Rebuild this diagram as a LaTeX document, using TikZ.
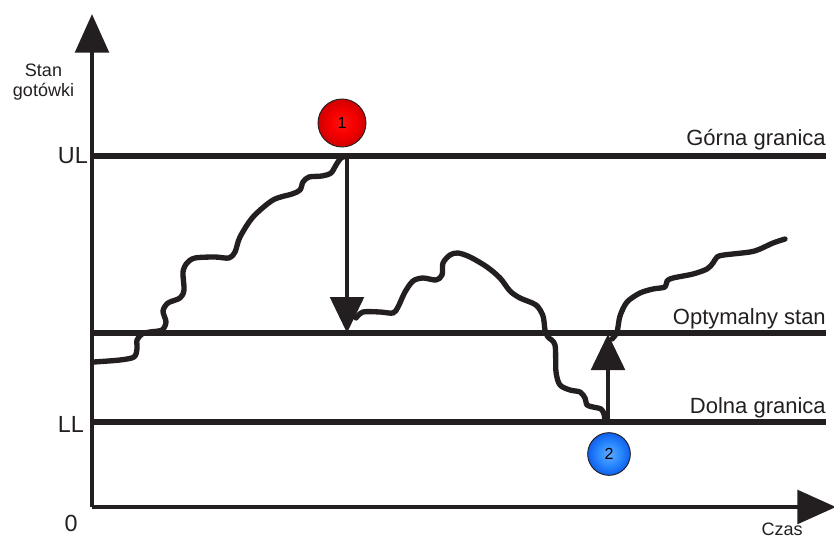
\documentclass[tikz,border=0pt]{standalone}
\usepackage{fontspec}
\setmainfont{Liberation Sans}
\usetikzlibrary{arrows.meta}
\definecolor{ink}{RGB}{35,31,32}
\pgfdeclareradialshading{redball}{\pgfpoint{0bp}{0bp}}{color(0bp)=(red!92!white); color(12bp)=(red!97!black); color(25bp)=(red!82!black); color(50bp)=(red!72!black)}
\pgfdeclareradialshading{blueball}{\pgfpoint{0bp}{0bp}}{color(0bp)=(rgb,255:red,95;green,170;blue,255); color(14bp)=(rgb,255:red,40;green,135;blue,255); color(25bp)=(rgb,255:red,15;green,95;blue,235); color(50bp)=(rgb,255:red,10;green,80;blue,210)}
\tikzset{
  axis/.style={draw=ink, line width=3.6pt, -{Triangle[length=29pt, width=25pt]}},
  level/.style={draw=ink, line width=4.4pt},
  jump/.style={draw=ink, line width=3.5pt, -{Triangle[length=27pt, width=25pt]}},
  cash/.style={draw=ink, line width=4pt, line cap=round, line join=round},
  lbl/.style={text=ink, font=\fontsize{16.5}{19}\selectfont, inner sep=0pt},
  big/.style={text=ink, font=\fontsize{17.5}{20}\selectfont, inner sep=0pt},
  small/.style={text=ink, font=\fontsize{13.5}{16}\selectfont, inner sep=0pt},
  ball/.style={circle, draw=ink, line width=0.7pt, inner sep=0pt, font=\fontsize{12}{14}\selectfont, text=black},
}
\begin{document}
\begin{tikzpicture}[x=0.75pt, y=-0.75pt]
\useasboundingbox (0,0) rectangle (834,538);
% coordinates
\coordinate (O) at (92,507);
\coordinate (Ytop) at (92,14);
\coordinate (Xend) at (836,507);
\coordinate (ULa) at (92,156);
\coordinate (ULb) at (826,156);
\coordinate (OPa) at (92,333);
\coordinate (OPb) at (826,333);
\coordinate (LLa) at (92,422);
\coordinate (LLb) at (826,422);
\coordinate (D1) at (347,156);
\coordinate (D2) at (347,333);
\coordinate (U1) at (608,422);
\coordinate (U2) at (608,334);
% level lines
\draw[level] (ULa) -- (ULb);
\draw[level] (OPa) -- (OPb);
\draw[level] (LLa) -- (LLb);
% cash curve
\draw[cash] plot[smooth, tension=0.5] coordinates {
 (94,362) (120,360) (134,357) (137,349) (137,340) (142,334) (150,332) (162,330)
 (166,322) (163,311) (168,303) (180,298) (184,290) (183,272) (187,263) (195,258)
 (215,257) (229,258) (235,252) (240,237) (253,217) (273,200) (292,194) (300,190)
 (303,182) (309,177) (322,176) (331,173) (336,165) (341,158) (347,156)};
\draw[cash] plot[smooth, tension=0.5] coordinates {
 (356,318) (363,312) (380,312) (393,313) (398,307) (405,292) (413,281) (423,278)
 (436,280) (442,275) (443,263) (450,255) (458,253) (470,257) (487,267) (500,278)
 (510,291) (520,298) (536,305) (543,316) (545,330) (548,337) (555,345) (556,372)
 (560,385) (570,390) (580,392) (585,398) (587,405) (593,407) (601,409) (604,414) (605,421)};
\draw[cash] plot[smooth, tension=0.5] coordinates {
 (612,339) (617,332) (620,316) (627,302) (640,293) (653,289) (665,287) (667,281)
 (673,278) (693,274) (707,269) (713,263) (717,257) (724,255) (750,252) (760,249)
 (773,243) (785,239)};
% jumps
\draw[jump] (D1) -- (D2);
\draw[jump] (U1) -- (U2);
% axes
\draw[axis] (O) -- (Ytop);
\draw[axis] (O) -- (Xend);
% balls
\node[ball, minimum size=36pt, shading=redball] (b1) at (342,123) {1};
\node[ball, minimum size=32pt, shading=blueball] (b2) at (609,454) {2};
% labels
\node[lbl, anchor=base east] (lg) at (826,146) {Górna granica};
\node[lbl, anchor=base east] (lo) at (826,324) {Optymalny stan};
\node[lbl, anchor=base east] (ld) at (826,413) {Dolna granica};
\node[big, anchor=east] (lul) at (88,156) {UL};
\node[big, anchor=east] (lll) at (84,424) {LL};
\node[big] (l0) at (71,523) {0};
\node[small, anchor=base] (ls) at (43.5,77) {Stan};
\node[small, anchor=base] (lgt) at (43.5,97) {gotówki};
\node[small, anchor=base] (lc) at (782,535) {Czas};
\end{tikzpicture}
\end{document}
